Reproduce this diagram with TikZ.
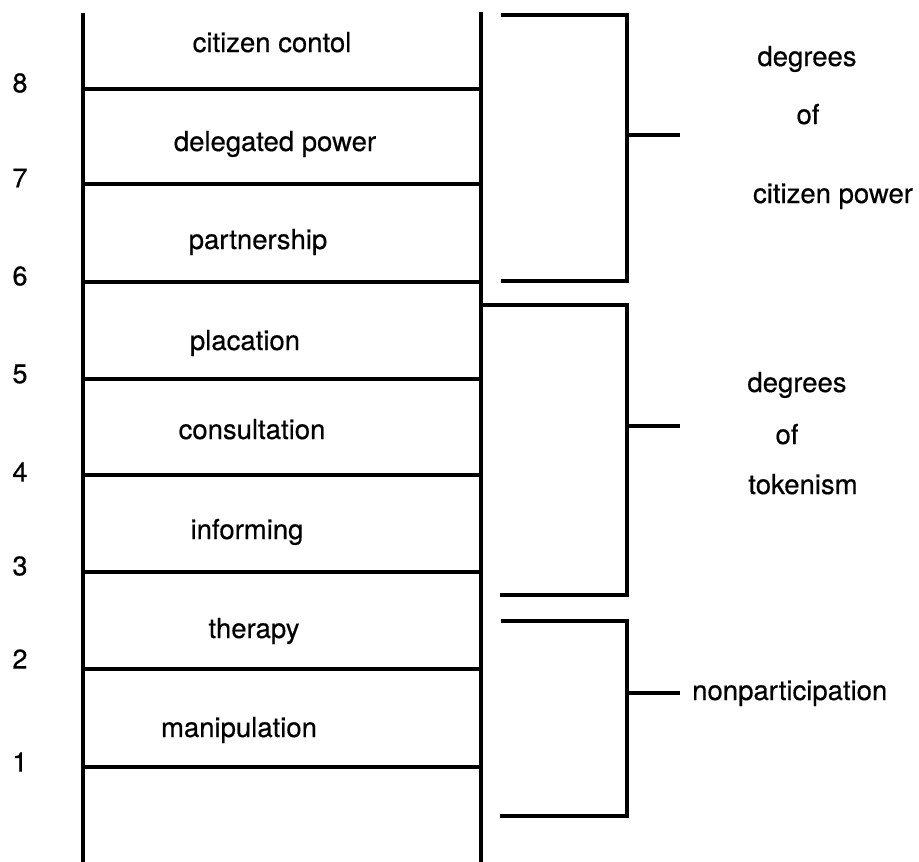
\documentclass[tikz,border=0pt]{standalone}
\usepackage{fontspec}
\setmainfont[FakeBold=0.5]{TeX Gyre Heros}
\begin{document}
\begin{tikzpicture}[x=1pt,y=-1pt,
  ln/.style={line width=3.2pt,line cap=rect},
  lbl/.style={font=\fontsize{27.5}{30}\selectfont,inner sep=0pt,anchor=base},
  num/.style={font=\fontsize{27}{30}\selectfont,inner sep=0pt}]
\useasboundingbox (0,0) rectangle (919,862);
% ladder rails
\coordinate (LT) at (83,15); \coordinate (LB) at (83,862);
\coordinate (RT) at (481,14); \coordinate (RB) at (481,862);
\draw[ln] (LT) -- (LB);
\draw[ln] (RT) -- (RB);
% rungs
\foreach \y in {89,184,282,379,475,572,669,767}{
  \draw[ln] (83,\y) -- (481,\y);
}
% rung labels
\node[lbl] (r8) at (272,52) {citizen contol};
\node[lbl] (r7) at (275,151) {delegated power};
\node[lbl] (r6) at (258,249) {partnership};
\node[lbl] (r5) at (245,350) {placation};
\node[lbl] (r4) at (252,439) {consultation};
\node[lbl] (r3) at (247,539) {informing};
\node[lbl] (r2) at (254,638) {therapy};
\node[lbl] (r1) at (239,737) {manipulation};
% numbers
\node[num] (n8) at (20,83) {8};
\node[num] (n7) at (20,178) {7};
\node[num] (n6) at (20,276) {6};
\node[num] (n5) at (20,374) {5};
\node[num] (n4) at (20,472) {4};
\node[num] (n3) at (20,566) {3};
\node[num] (n2) at (20,659) {2};
\node[num] (n1) at (20,762) {1};
% bracket 1: citizen power
\draw[ln] (503,15) -- (627,15) -- (627,281) -- (503,281);
\coordinate (b1) at (627,135);
\coordinate (t1) at (678,135);
\draw[ln] (b1) -- (t1);
\node[lbl] (cp1) at (807,66) {degrees};
\node[lbl] (cp2) at (808,124) {of};
\node[lbl] (cp3) at (833,203) {citizen power};
% bracket 2: tokenism
\draw[ln] (481,305) -- (627,305) -- (627,595) -- (502,595);
\coordinate (b2) at (627,426);
\coordinate (t2) at (678,426);
\draw[ln] (b2) -- (t2);
\node[lbl] (tk1) at (797,392) {degrees};
\node[lbl] (tk2) at (787,444) {of};
\node[lbl] (tk3) at (803,494) {tokenism};
% bracket 3: nonparticipation
\draw[ln] (503,621) -- (627,621) -- (627,816) -- (502,816);
\coordinate (b3) at (627,693);
\coordinate (t3) at (678,693);
\draw[ln] (b3) -- (t3);
\node[lbl,anchor=base west] (np) at (692,700) {nonparticipation};
\end{tikzpicture}
\end{document}
